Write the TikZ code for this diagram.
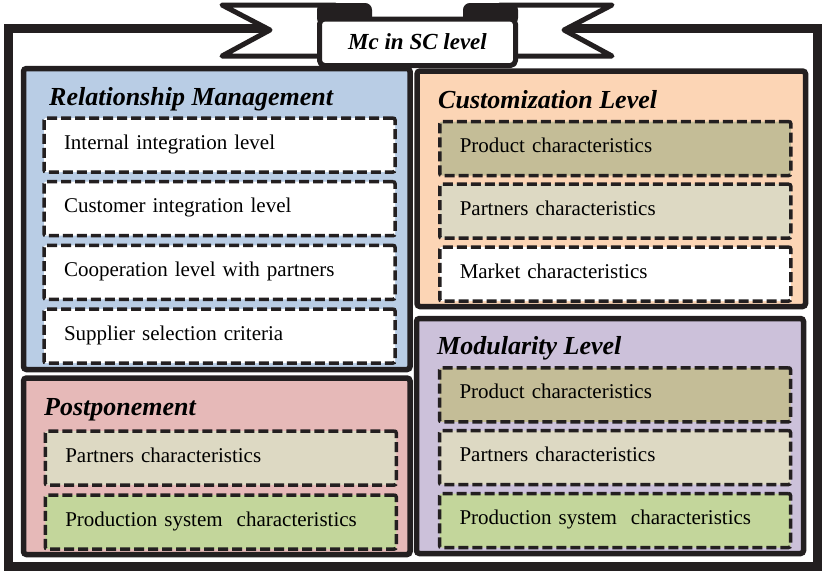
\documentclass[tikz,border=0pt]{standalone}
\usepackage{fontspec}
\setmainfont{Liberation Serif}
\usetikzlibrary{positioning}
\definecolor{lineBlack}  {HTML}{231F20}
\definecolor{relBlue}    {HTML}{B9CDE5}
\definecolor{custPeach}  {HTML}{FCD5B5}
\definecolor{postPink}   {HTML}{E6B9B8}
\definecolor{modLilac}   {HTML}{CCC1DA}
\definecolor{prodOlive}  {HTML}{C4BD97}
\definecolor{partBeige}  {HTML}{DDD9C3}
\definecolor{sysGreen}   {HTML}{C3D69B}
\newcommand{\itemfont}{\fontsize{21}{24}\selectfont}
\newcommand{\headfont}{\fontsize{26}{30}\selectfont\bfseries\itshape}
\tikzstyle{frame}   = [draw=lineBlack, line width=9.5pt]
\tikzstyle{ribbon}  = [draw=lineBlack, fill=white, line width=5pt, line join=round]
\tikzstyle{curl}    = [draw=lineBlack, fill=lineBlack, line width=2pt, rounded corners=6pt]
\tikzstyle{banner}  = [ribbon, rounded corners=5pt, minimum width=196pt, minimum height=46.5pt,
                       text height=17pt, text depth=2pt, inner sep=0pt, font=\fontsize{23}{26}\selectfont\bfseries\itshape]
\tikzstyle{panel}   = [draw=lineBlack, line width=5.5pt, rounded corners=3pt, inner sep=0pt]
\tikzstyle{item}    = [draw=lineBlack, line width=3.5pt, dash pattern=on 10pt off 4pt, rounded corners=2pt,
                       minimum height=54pt, text width=311pt, inner xsep=20pt, inner ysep=0pt,
                       text height=14pt, text depth=6pt, align=left, font=\itemfont]
\tikzstyle{heading} = [anchor=base west, inner sep=0pt, font=\headfont]
\begin{document}
\begin{tikzpicture}[x=1pt,y=-1pt]
  \useasboundingbox (0,0) rectangle (823,571);
  % outer frame
  \draw[frame] (8.5,28.5) rectangle (817.5,566.5);
  % banner
  \draw[ribbon] (335,5) -- (222,5) -- (270,30) -- (222,56) -- (335,56) -- cycle;
  \draw[ribbon] (500,5) -- (612,5) -- (564,30) -- (612,56) -- (500,56) -- cycle;
  \draw[curl] (318,24) -- (318,4) -- (371,4) -- (371,24) -- cycle;
  \draw[curl] (464,24) -- (464,4) -- (517,4) -- (517,24) -- cycle;
  \node[banner] (title) at (417.5,42.25) {Mc in SC level};

  % panels
  \node[panel, fill=relBlue,   minimum width=386.5pt, minimum height=301pt]   (relPanel)  at (216.75,219) {};
  \node[panel, fill=custPeach, minimum width=388.5pt, minimum height=235.5pt] (custPanel) at (611.25,188.75) {};
  \node[panel, fill=postPink,  minimum width=386.5pt, minimum height=176.5pt] (postPanel) at (216.75,466.25) {};
  \node[panel, fill=modLilac,  minimum width=387pt,   minimum height=235pt]   (modPanel)  at (610,436) {};

  \node[heading] (relHead)  at (49,105)  {Relationship Management};
  \node[heading] (custHead) at (438,108) {Customization Level};
  \node[heading] (postHead) at (44,415)  {Postponement};
  \node[heading] (modHead)  at (437,354) {Modularity Level};

  % relationship management
  \node[item, fill=white] (relInt)  at (219.5,145)   {Internal integration level};
  \node[item, fill=white] (relCust) at (219.5,208.7) {Customer integration level};
  \node[item, fill=white] (relCoop) at (219.5,272.3) {Cooperation level with partners};
  \node[item, fill=white] (relSupp) at (219.5,336)   {Supplier selection criteria};

  % customization level
  \node[item, fill=prodOlive] (custProd) at (615.25,148.5) {Product characteristics};
  \node[item, fill=partBeige] (custPart) at (615.25,211.2) {Partners characteristics};
  \node[item, fill=white]     (custMark) at (615.25,274)   {Market characteristics};

  % postponement
  \node[item, fill=partBeige] (postPart) at (220.75,458) {Partners characteristics};
  \node[item, fill=sysGreen]  (postSys)  at (220.75,522) {Production system\ \ characteristics};

  % modularity level
  \node[item, fill=prodOlive] (modProd) at (615,394.8) {Product characteristics};
  \node[item, fill=partBeige] (modPart) at (615,457.5) {Partners characteristics};
  \node[item, fill=sysGreen]  (modSys)  at (615,520.5) {Production system\ \ characteristics};
\end{tikzpicture}
\end{document}
